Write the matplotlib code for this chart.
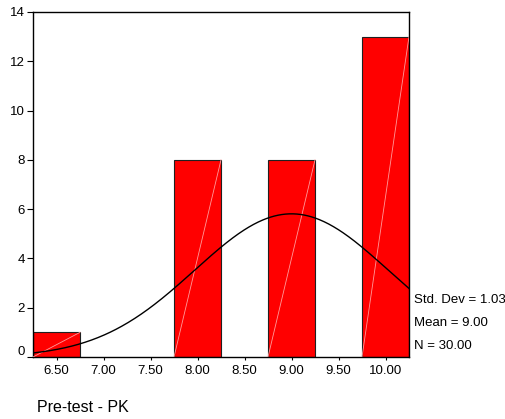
import numpy as np
import matplotlib
matplotlib.use("Agg")
import matplotlib.pyplot as plt
from matplotlib.transforms import offset_copy

plt.rcParams['font.family'] = ['Liberation Sans', 'DejaVu Sans']

bin_centers = [6.5, 8.0, 9.0, 10.0]
counts = [1, 8, 8, 13]
bin_width = 0.5
std_dev = 1.03
mean = 9.00
n = 30
xticks = [6.5, 7.0, 7.5, 8.0, 8.5, 9.0, 9.5, 10.0]
xticklabels = ["6.50", "7.00", "7.50", "8.00", "8.50", "9.00", "9.50", "10.00"]
yticks = [0, 2, 4, 6, 8, 10, 12, 14]
x_label = "Pre-test - PK"

fig = plt.figure(figsize=(5.06, 4.19), dpi=100)
ax = fig.add_axes([33/506, 1-357/419, (409-33)/506, (357-12)/419])

ax.bar(bin_centers, counts, width=bin_width, color='#ff0000', edgecolor='#202020', linewidth=0.8, zorder=2)
for c, h in zip(bin_centers, counts):
    ax.plot([c - bin_width/2, c + bin_width/2], [0, h], color='#ff9a9a', lw=0.6, zorder=3)

xs = np.linspace(6.25, 10.25, 400)
ys = n * bin_width / (std_dev * np.sqrt(2*np.pi)) * np.exp(-0.5*((xs-mean)/std_dev)**2)
ax.plot(xs, ys, color='black', lw=1.0, zorder=4)

ax.set_xlim(6.25, 10.25)
ax.set_ylim(0, 14)
ax.set_xticks(xticks)
ax.set_xticklabels(xticklabels)
ax.set_yticks(yticks)
ax.set_yticklabels([str(v) for v in yticks])
ax.tick_params(axis='x', length=2, width=0.8, pad=4, labelsize=9.5, direction='out')
ax.tick_params(axis='y', length=4, width=0.8, pad=2, labelsize=9.5, direction='out')
for s in ax.spines.values():
    s.set_linewidth(1.0)
    s.set_color('black')

# shift "0" label up as in reference
lab0 = ax.get_yticklabels()[0]
lab0.set_transform(offset_copy(lab0.get_transform(), fig=fig, x=0, y=7, units='dots'))

fig.text(414/506, 1-300/419, f"Std. Dev = {std_dev:.2f}", fontsize=9.5, va='center', ha='left')
fig.text(414/506, 1-323/419, f"Mean = {mean:.2f}", fontsize=9.5, va='center', ha='left')
fig.text(414/506, 1-346/419, f"N = {n:.2f}", fontsize=9.5, va='center', ha='left')
fig.text(37/506, 1-407/419, x_label, fontsize=11.5, va='center', ha='left')

fig.savefig("out.png", dpi=100)
